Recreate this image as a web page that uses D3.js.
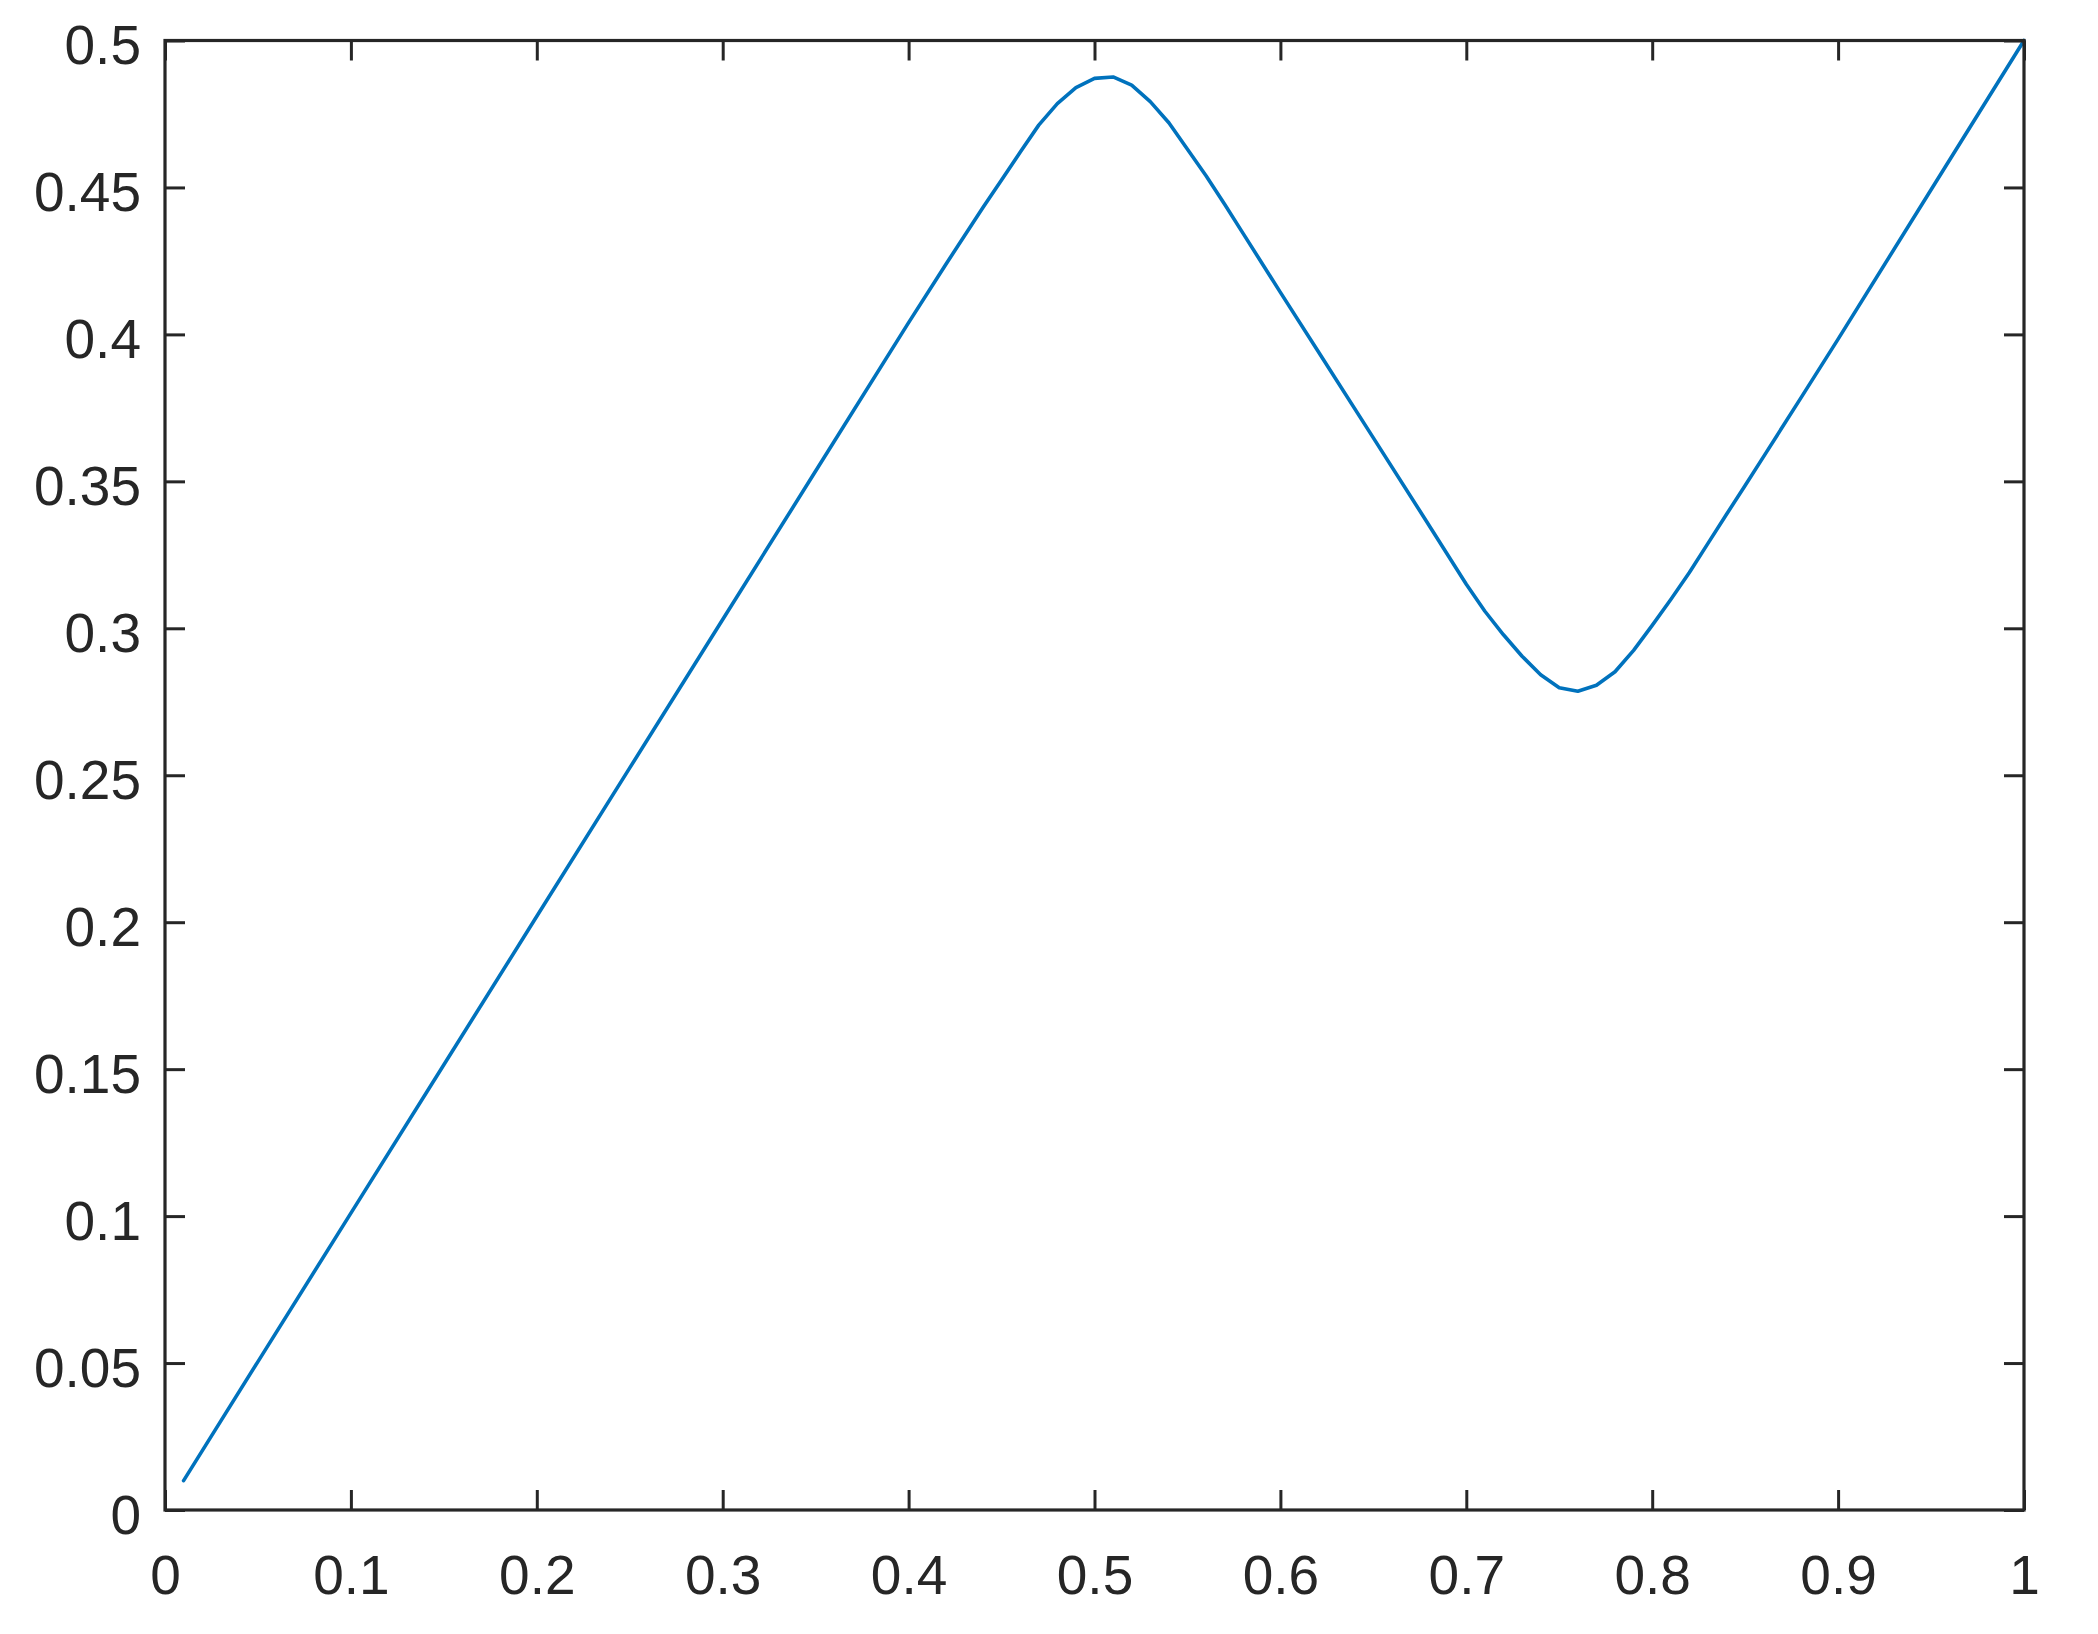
<!DOCTYPE html>
<html>
<head>
<meta charset="utf-8">
<script src="https://cdn.jsdelivr.net/npm/d3@7"></script>
<style>
  html, body { margin: 0; padding: 0; background: #fff; }
  svg { display: block; }
</style>
</head>
<body>
<svg id="chart"></svg>
<script>
// values
const xValues = [0.01, 0.05, 0.10, 0.15, 0.20, 0.25, 0.30, 0.35, 0.40, 0.42, 0.44,
                 0.45, 0.46, 0.47, 0.48, 0.49, 0.50, 0.51, 0.52, 0.53, 0.54, 0.55,
                 0.56, 0.57, 0.58, 0.59, 0.60, 0.62, 0.65, 0.68, 0.70, 0.71, 0.72,
                 0.73, 0.74, 0.75, 0.76, 0.77, 0.78, 0.79, 0.80, 0.81, 0.82, 0.83,
                 0.84, 0.85, 0.86, 0.88, 0.90, 0.95, 1.00];
const yValues = [0.010, 0.0505, 0.101, 0.1515, 0.202, 0.2525, 0.303, 0.3535, 0.404, 0.4238, 0.4432,
                 0.4525, 0.4620, 0.4712, 0.4785, 0.4840, 0.4871, 0.4876, 0.4848, 0.4792, 0.4720, 0.4630,
                 0.4540, 0.4443, 0.4343, 0.4243, 0.4143, 0.3945, 0.3648, 0.3350, 0.3150, 0.3058, 0.2978,
                 0.2905, 0.2842, 0.2798, 0.2786, 0.2806, 0.2852, 0.2925, 0.3010, 0.3098, 0.3190, 0.3289,
                 0.3388, 0.3486, 0.3585, 0.3784, 0.3984, 0.4492, 0.5000];

const xTicks = [0, 0.1, 0.2, 0.3, 0.4, 0.5, 0.6, 0.7, 0.8, 0.9, 1];
const xTickLabels = ["0", "0.1", "0.2", "0.3", "0.4", "0.5", "0.6", "0.7", "0.8", "0.9", "1"];
const yTicks = [0, 0.05, 0.1, 0.15, 0.2, 0.25, 0.3, 0.35, 0.4, 0.45, 0.5];
const yTickLabels = ["0", "0.05", "0.1", "0.15", "0.2", "0.25", "0.3", "0.35", "0.4", "0.45", "0.5"];

const W = 2098, H = 1634;
const M = { top: 40.5, right: 74, bottom: 124, left: 165 };
const AXIS = "#262626";
const TICK = 20;
const FONT = "'Liberation Sans', Arial, Helvetica, sans-serif";

const svg = d3.select("#chart").attr("width", W).attr("height", H);

const x = d3.scaleLinear().domain([0, 1]).range([M.left, W - M.right]);
const y = d3.scaleLinear().domain([0, 0.5]).range([H - M.bottom, M.top]);

const data = xValues.map((v, i) => ({ x: v, y: yValues[i] }));

// ── series ───────────────────────────────────────────────────────
svg.append("path")
    .datum(data)
    .attr("fill", "none")
    .attr("stroke", "#0072BD")
    .attr("stroke-width", 3.6)
    .attr("stroke-linejoin", "round")
    .attr("stroke-linecap", "round")
    .attr("d", d3.line().x(d => x(d.x)).y(d => y(d.y)));

// ── axes (ticks point inward on all four sides) ──────────────────
function styleAxis(g) {
    g.select(".domain").remove();
    g.selectAll(".tick line").attr("stroke", AXIS).attr("stroke-width", 3);
    g.selectAll(".tick text")
        .attr("fill", AXIS).attr("font-family", FONT).attr("font-size", 55);
}

svg.append("g")
    .attr("transform", `translate(0,${H - M.bottom})`)
    .call(d3.axisBottom(x).tickValues(xTicks).tickSize(-TICK).tickPadding(45)
        .tickFormat((d, i) => xTickLabels[i]))
    .call(styleAxis);

svg.append("g")
    .attr("transform", `translate(${M.left},0)`)
    .call(d3.axisLeft(y).tickValues(yTicks).tickSize(-TICK).tickPadding(24)
        .tickFormat((d, i) => yTickLabels[i]))
    .call(styleAxis)
    .call(g => g.selectAll(".tick text").attr("dy", "0.42em"));

svg.append("g")
    .attr("transform", `translate(0,${M.top})`)
    .call(d3.axisTop(x).tickValues(xTicks).tickSize(-TICK).tickFormat(""))
    .call(styleAxis);

svg.append("g")
    .attr("transform", `translate(${W - M.right},0)`)
    .call(d3.axisRight(y).tickValues(yTicks).tickSize(-TICK).tickFormat(""))
    .call(styleAxis);

// box
svg.append("rect")
    .attr("x", M.left).attr("y", M.top)
    .attr("width", W - M.left - M.right).attr("height", H - M.top - M.bottom)
    .attr("fill", "none")
    .attr("stroke", AXIS).attr("stroke-width", 3.2)
    .attr("stroke-linejoin", "miter");
</script>
</body>
</html>
